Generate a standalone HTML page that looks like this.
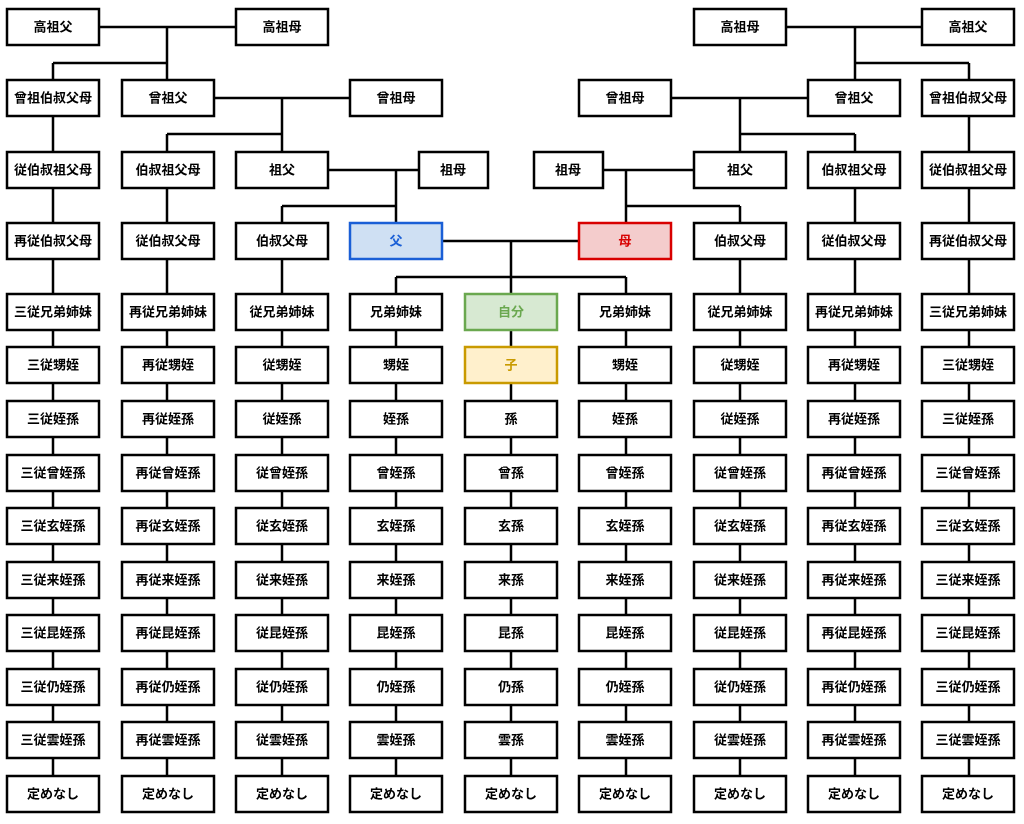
<!DOCTYPE html>
<html><head><meta charset="utf-8"><style>
html,body{margin:0;padding:0;background:#fff;width:1024px;height:824px;overflow:hidden}
svg text{font-family:"Liberation Sans","Noto Sans CJK JP",sans-serif;font-size:13px;font-weight:bold;text-anchor:middle;dominant-baseline:central;fill:#000}
.b{fill:#fff;stroke:#000;stroke-width:2.5}
.l{stroke:#000;stroke-width:2.5;fill:none}
</style></head><body>
<svg width="1024" height="824" xmlns="http://www.w3.org/2000/svg">
<g class="l">
<path d="M99 27H236M53 63H167M167 27V80M53 63V776"/>
<path d="M213 98H350M167 134H282M282 98V152M167 134V776"/>
<path d="M282 206V776M328 170H419M282 206H396M396 170V223"/>
<path d="M396 277V776M442 241H579M396 277H626M511 241V776"/>
<path d="M786 27H922M855 63H969M855 27V80M969 63V776"/>
<path d="M671 98H808M740 134H855M740 98V152M855 134V776"/>
<path d="M740 206V776M603 170H694M626 206H740M626 170V223"/>
<path d="M626 277V776"/>
</g>
<g class="b">
<rect x="7" y="9" width="92" height="36"/><rect x="236" y="9" width="92" height="36"/>
<rect x="694" y="9" width="92" height="36"/><rect x="922" y="9" width="92" height="36"/>
<rect x="7" y="80" width="92" height="36"/><rect x="122" y="80" width="92" height="36"/><rect x="350" y="80" width="92" height="36"/>
<rect x="579" y="80" width="92" height="36"/><rect x="808" y="80" width="92" height="36"/><rect x="922" y="80" width="92" height="36"/>
<rect x="7" y="152" width="92" height="36"/><rect x="122" y="152" width="92" height="36"/><rect x="236" y="152" width="92" height="36"/><rect x="419" y="152" width="69" height="36"/>
<rect x="534" y="152" width="69" height="36"/><rect x="694" y="152" width="92" height="36"/><rect x="808" y="152" width="92" height="36"/><rect x="922" y="152" width="92" height="36"/>
<rect x="7" y="223" width="92" height="36"/><rect x="122" y="223" width="92" height="36"/><rect x="236" y="223" width="92" height="36"/>
<rect x="694" y="223" width="92" height="36"/><rect x="808" y="223" width="92" height="36"/><rect x="922" y="223" width="92" height="36"/>
</g>
<rect x="350" y="223" width="92" height="36" fill="#cfe0f3" stroke="#1a5fd6" stroke-width="2.5"/>
<rect x="579" y="223" width="92" height="36" fill="#f4cccc" stroke="#d80000" stroke-width="2.5"/>
<rect x="465" y="294" width="92" height="36" fill="#d7e9d2" stroke="#6aa84f" stroke-width="2.5"/>
<rect x="465" y="347" width="92" height="36" fill="#fff0cc" stroke="#c99a00" stroke-width="2.5"/>
<g class="b" id="grid">
<rect x="7" y="294" width="92" height="36"/><rect x="122" y="294" width="92" height="36"/><rect x="236" y="294" width="92" height="36"/><rect x="350" y="294" width="92" height="36"/><rect x="579" y="294" width="92" height="36"/><rect x="694" y="294" width="92" height="36"/><rect x="808" y="294" width="92" height="36"/><rect x="922" y="294" width="92" height="36"/>
<rect x="7" y="347" width="92" height="36"/><rect x="122" y="347" width="92" height="36"/><rect x="236" y="347" width="92" height="36"/><rect x="350" y="347" width="92" height="36"/><rect x="579" y="347" width="92" height="36"/><rect x="694" y="347" width="92" height="36"/><rect x="808" y="347" width="92" height="36"/><rect x="922" y="347" width="92" height="36"/>
<rect x="7" y="401" width="92" height="36"/><rect x="122" y="401" width="92" height="36"/><rect x="236" y="401" width="92" height="36"/><rect x="350" y="401" width="92" height="36"/><rect x="465" y="401" width="92" height="36"/><rect x="579" y="401" width="92" height="36"/><rect x="694" y="401" width="92" height="36"/><rect x="808" y="401" width="92" height="36"/><rect x="922" y="401" width="92" height="36"/>
<rect x="7" y="455" width="92" height="36"/><rect x="122" y="455" width="92" height="36"/><rect x="236" y="455" width="92" height="36"/><rect x="350" y="455" width="92" height="36"/><rect x="465" y="455" width="92" height="36"/><rect x="579" y="455" width="92" height="36"/><rect x="694" y="455" width="92" height="36"/><rect x="808" y="455" width="92" height="36"/><rect x="922" y="455" width="92" height="36"/>
<rect x="7" y="508" width="92" height="36"/><rect x="122" y="508" width="92" height="36"/><rect x="236" y="508" width="92" height="36"/><rect x="350" y="508" width="92" height="36"/><rect x="465" y="508" width="92" height="36"/><rect x="579" y="508" width="92" height="36"/><rect x="694" y="508" width="92" height="36"/><rect x="808" y="508" width="92" height="36"/><rect x="922" y="508" width="92" height="36"/>
<rect x="7" y="562" width="92" height="36"/><rect x="122" y="562" width="92" height="36"/><rect x="236" y="562" width="92" height="36"/><rect x="350" y="562" width="92" height="36"/><rect x="465" y="562" width="92" height="36"/><rect x="579" y="562" width="92" height="36"/><rect x="694" y="562" width="92" height="36"/><rect x="808" y="562" width="92" height="36"/><rect x="922" y="562" width="92" height="36"/>
<rect x="7" y="615" width="92" height="36"/><rect x="122" y="615" width="92" height="36"/><rect x="236" y="615" width="92" height="36"/><rect x="350" y="615" width="92" height="36"/><rect x="465" y="615" width="92" height="36"/><rect x="579" y="615" width="92" height="36"/><rect x="694" y="615" width="92" height="36"/><rect x="808" y="615" width="92" height="36"/><rect x="922" y="615" width="92" height="36"/>
<rect x="7" y="669" width="92" height="36"/><rect x="122" y="669" width="92" height="36"/><rect x="236" y="669" width="92" height="36"/><rect x="350" y="669" width="92" height="36"/><rect x="465" y="669" width="92" height="36"/><rect x="579" y="669" width="92" height="36"/><rect x="694" y="669" width="92" height="36"/><rect x="808" y="669" width="92" height="36"/><rect x="922" y="669" width="92" height="36"/>
<rect x="7" y="722" width="92" height="36"/><rect x="122" y="722" width="92" height="36"/><rect x="236" y="722" width="92" height="36"/><rect x="350" y="722" width="92" height="36"/><rect x="465" y="722" width="92" height="36"/><rect x="579" y="722" width="92" height="36"/><rect x="694" y="722" width="92" height="36"/><rect x="808" y="722" width="92" height="36"/><rect x="922" y="722" width="92" height="36"/>
<rect x="7" y="776" width="92" height="36"/><rect x="122" y="776" width="92" height="36"/><rect x="236" y="776" width="92" height="36"/><rect x="350" y="776" width="92" height="36"/><rect x="465" y="776" width="92" height="36"/><rect x="579" y="776" width="92" height="36"/><rect x="694" y="776" width="92" height="36"/><rect x="808" y="776" width="92" height="36"/><rect x="922" y="776" width="92" height="36"/>
</g>
<g>
<text x="53" y="27">高祖父</text><text x="282" y="27">高祖母</text><text x="740" y="27">高祖母</text><text x="968" y="27">高祖父</text>
<text x="53" y="98">曾祖伯叔父母</text><text x="168" y="98">曾祖父</text><text x="396" y="98">曾祖母</text>
<text x="625" y="98">曾祖母</text><text x="854" y="98">曾祖父</text><text x="968" y="98">曾祖伯叔父母</text>
<text x="53" y="170">従伯叔祖父母</text><text x="168" y="170">伯叔祖父母</text><text x="282" y="170">祖父</text><text x="453" y="170">祖母</text>
<text x="568" y="170">祖母</text><text x="740" y="170">祖父</text><text x="854" y="170">伯叔祖父母</text><text x="968" y="170">従伯叔祖父母</text>
<text x="53" y="241">再従伯叔父母</text><text x="168" y="241">従伯叔父母</text><text x="282" y="241">伯叔父母</text><text x="396" y="241" style="fill:#1a5fd6">父</text>
<text x="625" y="241" style="fill:#d80000">母</text><text x="740" y="241">伯叔父母</text><text x="854" y="241">従伯叔父母</text><text x="968" y="241">再従伯叔父母</text>
<text x="511" y="312" style="fill:#6aa84f">自分</text><text x="511" y="365" style="fill:#c99a00">子</text>
</g>
<g>
<text x="53" y="312">三従兄弟姉妹</text><text x="168" y="312">再従兄弟姉妹</text><text x="282" y="312">従兄弟姉妹</text><text x="396" y="312">兄弟姉妹</text><text x="625" y="312">兄弟姉妹</text><text x="740" y="312">従兄弟姉妹</text><text x="854" y="312">再従兄弟姉妹</text><text x="968" y="312">三従兄弟姉妹</text>
<text x="53" y="365">三従甥姪</text><text x="168" y="365">再従甥姪</text><text x="282" y="365">従甥姪</text><text x="396" y="365">甥姪</text><text x="625" y="365">甥姪</text><text x="740" y="365">従甥姪</text><text x="854" y="365">再従甥姪</text><text x="968" y="365">三従甥姪</text>
<text x="53" y="419">三従姪孫</text><text x="168" y="419">再従姪孫</text><text x="282" y="419">従姪孫</text><text x="396" y="419">姪孫</text><text x="511" y="419">孫</text><text x="625" y="419">姪孫</text><text x="740" y="419">従姪孫</text><text x="854" y="419">再従姪孫</text><text x="968" y="419">三従姪孫</text>
<text x="53" y="473">三従曾姪孫</text><text x="168" y="473">再従曾姪孫</text><text x="282" y="473">従曾姪孫</text><text x="396" y="473">曾姪孫</text><text x="511" y="473">曾孫</text><text x="625" y="473">曾姪孫</text><text x="740" y="473">従曾姪孫</text><text x="854" y="473">再従曾姪孫</text><text x="968" y="473">三従曾姪孫</text>
<text x="53" y="526">三従玄姪孫</text><text x="168" y="526">再従玄姪孫</text><text x="282" y="526">従玄姪孫</text><text x="396" y="526">玄姪孫</text><text x="511" y="526">玄孫</text><text x="625" y="526">玄姪孫</text><text x="740" y="526">従玄姪孫</text><text x="854" y="526">再従玄姪孫</text><text x="968" y="526">三従玄姪孫</text>
<text x="53" y="580">三従来姪孫</text><text x="168" y="580">再従来姪孫</text><text x="282" y="580">従来姪孫</text><text x="396" y="580">来姪孫</text><text x="511" y="580">来孫</text><text x="625" y="580">来姪孫</text><text x="740" y="580">従来姪孫</text><text x="854" y="580">再従来姪孫</text><text x="968" y="580">三従来姪孫</text>
<text x="53" y="633">三従昆姪孫</text><text x="168" y="633">再従昆姪孫</text><text x="282" y="633">従昆姪孫</text><text x="396" y="633">昆姪孫</text><text x="511" y="633">昆孫</text><text x="625" y="633">昆姪孫</text><text x="740" y="633">従昆姪孫</text><text x="854" y="633">再従昆姪孫</text><text x="968" y="633">三従昆姪孫</text>
<text x="53" y="687">三従仍姪孫</text><text x="168" y="687">再従仍姪孫</text><text x="282" y="687">従仍姪孫</text><text x="396" y="687">仍姪孫</text><text x="511" y="687">仍孫</text><text x="625" y="687">仍姪孫</text><text x="740" y="687">従仍姪孫</text><text x="854" y="687">再従仍姪孫</text><text x="968" y="687">三従仍姪孫</text>
<text x="53" y="740">三従雲姪孫</text><text x="168" y="740">再従雲姪孫</text><text x="282" y="740">従雲姪孫</text><text x="396" y="740">雲姪孫</text><text x="511" y="740">雲孫</text><text x="625" y="740">雲姪孫</text><text x="740" y="740">従雲姪孫</text><text x="854" y="740">再従雲姪孫</text><text x="968" y="740">三従雲姪孫</text>
<text x="53" y="794">定めなし</text><text x="168" y="794">定めなし</text><text x="282" y="794">定めなし</text><text x="396" y="794">定めなし</text><text x="511" y="794">定めなし</text><text x="625" y="794">定めなし</text><text x="740" y="794">定めなし</text><text x="854" y="794">定めなし</text><text x="968" y="794">定めなし</text>
</g>
</svg>
</body></html>
